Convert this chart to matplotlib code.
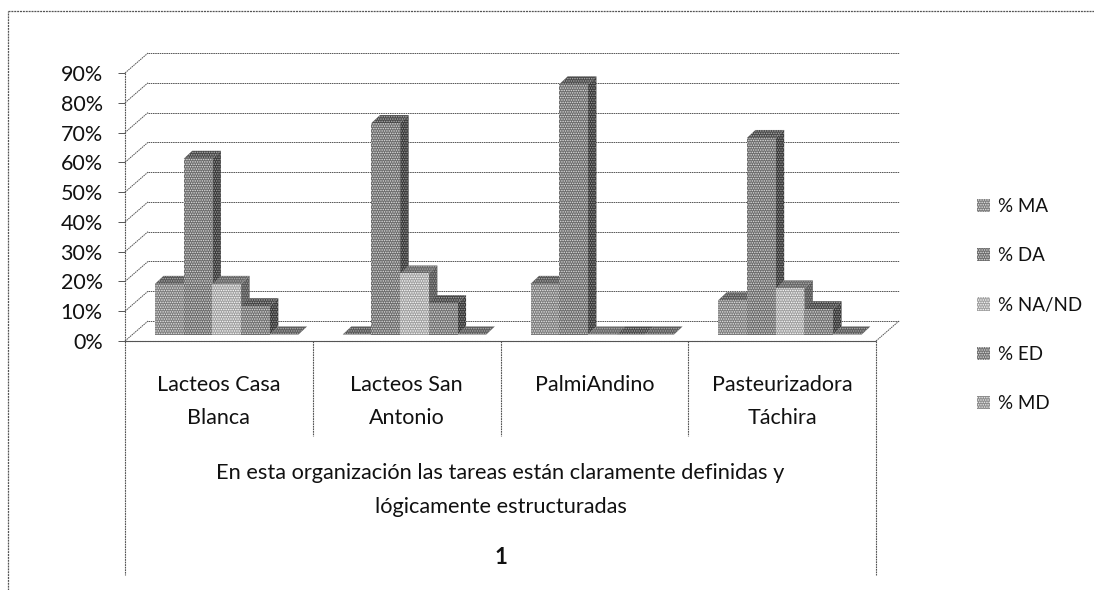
import matplotlib
matplotlib.use('Agg')
import matplotlib.pyplot as plt
from matplotlib.lines import Line2D
from matplotlib.patches import Patch, Polygon

plt.rcParams['font.family'] = ['Lato', 'DejaVu Sans']
plt.rcParams['hatch.linewidth'] = 0.7

# Values (percent)
companies = ['Lacteos Casa\nBlanca', 'Lacteos San\nAntonio', 'PalmiAndino', 'Pasteurizadora\nTáchira']
series_names = ['% MA', '% DA', '% NA/ND', '% ED', '% MD']
pct_ma = [17, 0, 17, 11.5]
pct_da = [59, 71, 84, 66]
pct_na = [17, 20.5, 0, 15.5]
pct_ed = [9.5, 10.5, 0, 8.5]
pct_md = [0, 0, 0, 0]
y_ticks = [0, 10, 20, 30, 40, 50, 60, 70, 80, 90]
question = 'En esta organización las tareas están claramente definidas y\nlógicamente estructuradas'
group_label = '1'

all_series = [pct_ma, pct_da, pct_na, pct_ed, pct_md]
front_colors = ['#7c7c7c', '#6c6c6c', '#a0a0a0', '#707070', '#8c8c8c']
side_colors = ['#454545', '#383838', '#555555', '#363636', '#4c4c4c']
top_colors = ['#555555', '#484848', '#666666', '#444444', '#5a5a5a']
dot_colors = ['#e8e8e8', '#e0e0e0', '#ffffff', '#e0e0e0', '#f0f0f0']

W, H = 1094, 590
LINE = '#555555'
TEXT = '#111111'
NOISY = (0, (1.6, 0.7))

fig = plt.figure(figsize=(W / 100, H / 100), dpi=100)
ax = fig.add_axes([125 / W, 1 - 341 / H, 751 / W, 268 / H])
ax.set_xlim(0, 4)
ax.set_ylim(0, 90)
ax.patch.set_visible(False)

# depth of the 3D box and of the bars, in data units
wall_dx, wall_dy = 23 / 187.75, 20 / 2.98
bar_dx, bar_dy = 8.5 / 187.75, 8 / 2.98
base_y = 6.5 / 2.98
bar_w = 28.7 / 187.75
group_start = 30 / 187.75

# back wall and floor
for v in y_ticks:
    ax.plot([0, wall_dx], [v, v + wall_dy], color=LINE, lw=0.7, ls=NOISY, clip_on=False, zorder=1)
    ax.plot([wall_dx, 4 + wall_dx], [v + wall_dy, v + wall_dy], color=LINE, lw=0.7, ls=NOISY, clip_on=False, zorder=1)
ax.plot([4, 4 + wall_dx], [0, wall_dy], color=LINE, lw=0.7, ls=NOISY, clip_on=False, zorder=1)

# bars, left to right so each front covers the side of the bar before it
z = 3
for c in range(len(companies)):
    for s, values in enumerate(all_series):
        x0 = c + group_start + s * bar_w
        top = base_y + values[c]
        ax.add_patch(Polygon([(x0 + bar_w, base_y), (x0 + bar_w + bar_dx, base_y + bar_dy),
                              (x0 + bar_w + bar_dx, top + bar_dy), (x0 + bar_w, top)],
                             facecolor=side_colors[s], edgecolor='#a0a0a0', hatch='.......',
                             lw=0, clip_on=False, zorder=z))
        ax.add_patch(Polygon([(x0, top), (x0 + bar_dx, top + bar_dy),
                              (x0 + bar_w + bar_dx, top + bar_dy), (x0 + bar_w, top)],
                             facecolor=top_colors[s], edgecolor='#b0b0b0', hatch='.......',
                             lw=0, clip_on=False, zorder=z))
        ax.bar(x0, values[c], bar_w, bottom=base_y, align='edge', facecolor=front_colors[s],
               edgecolor=dot_colors[s], hatch='.......', lw=0, clip_on=False, zorder=z)
        z += 1

# axes
ax.set_yticks(y_ticks)
ax.set_yticklabels([f'{v}%' for v in y_ticks], fontsize=15.5, color=TEXT)
ax.tick_params(axis='y', length=5, width=0.7, color=LINE, pad=11)
ax.set_xticks([])
for side in ['top', 'right', 'left']:
    ax.spines[side].set_visible(False)
ax.spines['bottom'].set_color(LINE)
ax.spines['bottom'].set_linewidth(0.8)
ax.spines['bottom'].set_linestyle(NOISY)


def px_to_pct(y_px):
    return (341 - y_px) / 2.98


# multi level category axis below the plot
for x in [0, 4]:
    ax.plot([x, x], [90 if x == 0 else 0, px_to_pct(575)], color=LINE, lw=0.8, ls=NOISY, clip_on=False)
for x in [1, 2, 3]:
    ax.plot([x, x], [0, px_to_pct(436)], color=LINE, lw=0.8, ls=NOISY, clip_on=False)
for c, name in enumerate(companies):
    ax.text(c + 0.5, px_to_pct(375), name, ha='center', va='top', fontsize=15.5, color=TEXT,
            linespacing=1.8, clip_on=False)
ax.text(2, px_to_pct(463), question, ha='center', va='top', fontsize=15.7, color=TEXT,
        linespacing=1.9, clip_on=False)
ax.text(2, px_to_pct(558), group_label, ha='center', va='center', fontsize=16, fontweight='bold',
        color=TEXT, clip_on=False)

# legend
handles = [Patch(facecolor=front_colors[s], edgecolor=dot_colors[s], hatch='.......', lw=0, label=series_names[s])
           for s in range(len(series_names))]
fig.legend(handles=handles, loc='center left', bbox_to_anchor=(960 / W, 1 - 305 / H), frameon=False,
           fontsize=13.5, handlelength=0.7, handleheight=0.7, handletextpad=0.4, labelspacing=1.72,
           labelcolor=TEXT)

# outer chart frame
fig.add_artist(Line2D([8 / W, 8 / W], [0, 1 - 11 / H], color=LINE, lw=0.9, ls=NOISY))
fig.add_artist(Line2D([8 / W, 1], [1 - 11 / H, 1 - 11 / H], color=LINE, lw=0.9, ls=NOISY))

fig.savefig('out.png', dpi=100, facecolor='white')
